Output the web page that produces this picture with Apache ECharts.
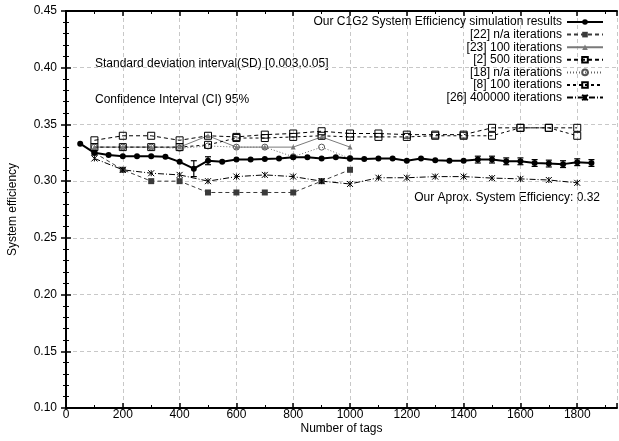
<!DOCTYPE html>
<html>
<head>
<meta charset="utf-8">
<script src="https://cdn.jsdelivr.net/npm/echarts@6/dist/echarts.min.js"></script>
<style>
  html, body { margin: 0; padding: 0; background: #fff; }
  #chart { width: 619px; height: 441px; }
</style>
</head>
<body>
<div id="chart"></div>
<script>
// number of tags (x values)
var ourTags = [50, 100, 150, 200, 250, 300, 350, 400, 450, 500, 550, 600, 650, 700, 750, 800, 850, 900, 950,
  1000, 1050, 1100, 1150, 1200, 1250, 1300, 1350, 1400, 1450, 1500, 1550, 1600, 1650, 1700, 1750, 1800, 1850];
var tags1000 = [100, 200, 300, 400, 500, 600, 700, 800, 900, 1000];
var tags1800 = [100, 200, 300, 400, 500, 600, 700, 800, 900, 1000, 1100, 1200, 1300, 1400, 1500, 1600, 1700, 1800];

// our simulation results + error bar half-heights
var ourEff = [0.333, 0.325, 0.323, 0.322, 0.322, 0.322, 0.3215, 0.317, 0.311, 0.318, 0.317, 0.319, 0.319, 0.3195, 0.320,
  0.321, 0.321, 0.320, 0.321, 0.320, 0.3195, 0.320, 0.320, 0.318, 0.320, 0.3185, 0.318, 0.318, 0.319, 0.319,
  0.3175, 0.3175, 0.316, 0.3155, 0.315, 0.3167, 0.316];
var ourErr = [0, 0, 0, 0, 0, 0, 0, 0, 0.007, 0.0035, 0, 0, 0, 0, 0, 0, 0, 0, 0, 0, 0, 0, 0, 0, 0, 0, 0, 0,
  0.003, 0.003, 0.003, 0.003, 0.003, 0.003, 0.003, 0.003, 0.003];

// literature values
var ref22 = [0.325, 0.310, 0.300, 0.300, 0.290, 0.290, 0.290, 0.290, 0.300, 0.310];
var ref23 = [0.330, 0.330, 0.330, 0.330, 0.340, 0.330, 0.330, 0.330, 0.339, 0.330];
var ref2 = [0.336, 0.340, 0.340, 0.336, 0.340, 0.339, 0.341, 0.342, 0.344, 0.342, 0.342, 0.341, 0.341, 0.341, 0.347, 0.347, 0.347, 0.347];
var ref18 = [0.330, 0.330, 0.330, 0.329, 0.331, 0.330, 0.330, 0.3215, 0.330, 0.320];
var ref8 = [0.330, 0.330, 0.330, 0.330, 0.332, 0.338, 0.338, 0.339, 0.340, 0.339, 0.339, 0.339, 0.340, 0.340, 0.340, 0.347, 0.347, 0.340];
var ref26 = [0.320, 0.310, 0.307, 0.3055, 0.300, 0.304, 0.3055, 0.304, 0.300, 0.2975, 0.303, 0.303, 0.304, 0.304, 0.3027, 0.302, 0.301, 0.2985];

var names = [
  'Our C1G2 System Efficiency simulation results',
  '[22] n/a iterations',
  '[23] 100 iterations',
  '[2] 500 iterations',
  '[18] n/a iterations',
  '[8] 100 iterations',
  '[26] 400000 iterations'
];

function pairs(xs, ys) {
  return xs.map(function (x, i) { return [x, ys[i]]; });
}

var FONT = 'Liberation Sans';
var asterisk = 'path://M0,0L10,10M10,0L0,10M5,0L5,10';
var gridLine = { show: true, lineStyle: { color: '#c8c8c8', type: [4, 3], width: 1 } };

var myChart = echarts.init(document.getElementById('chart'));

var option = {
  animation: false,
  textStyle: { fontFamily: FONT },
  grid: { left: 66, top: 11, right: 2, bottom: 33, containLabel: false, outerBoundsMode: 'none' },
  legend: {
    data: names,
    orient: 'vertical',
    align: 'right',
    right: 10,
    top: 11,
    itemWidth: 36,
    itemHeight: 7,
    itemGap: 0.6,
    textStyle: { fontFamily: FONT, fontSize: 12, color: '#000', lineHeight: 12 }
  },
  xAxis: [
    {
      type: 'value',
      min: 0,
      max: 1940,
      interval: 200,
      name: 'Number of tags',
      nameLocation: 'middle',
      nameGap: 15,
      nameMoveOverlap: false,
      nameTextStyle: { fontSize: 12, color: '#000', fontFamily: FONT },
      axisLine: { lineStyle: { color: '#000', width: 2 } },
      axisTick: { inside: true, length: 5, lineStyle: { color: '#000', width: 1.5 } },
      minorTick: { show: true, splitNumber: 2, length: 3, lineStyle: { color: '#000' } },
      axisLabel: { color: '#000', fontSize: 12, margin: 1, showMaxLabel: false,
        formatter: function (v) { return String(v); } },
      splitLine: gridLine
    },
    {
      type: 'value',
      position: 'top',
      min: 0,
      max: 1940,
      interval: 200,
      axisLine: { lineStyle: { color: '#000', width: 2 } },
      axisTick: { inside: true, length: 5, lineStyle: { color: '#000', width: 1.5 } },
      minorTick: { show: true, splitNumber: 2, length: 3, lineStyle: { color: '#000' } },
      axisLabel: { show: false },
      splitLine: { show: false }
    }
  ],
  yAxis: [
    {
      type: 'value',
      min: 0.10,
      max: 0.45,
      interval: 0.05,
      name: 'System efficiency',
      nameLocation: 'middle',
      nameGap: 47,
      nameMoveOverlap: false,
      nameTextStyle: { fontSize: 12, color: '#000', fontFamily: FONT },
      axisLine: { show: true, lineStyle: { color: '#000', width: 2 } },
      axisTick: { show: true, inside: true, length: 5, lineStyle: { color: '#000', width: 1.5 } },
      minorTick: { show: true, splitNumber: 5, length: 3, lineStyle: { color: '#000' } },
      axisLabel: {
        color: '#000', fontSize: 12, margin: 9,
        formatter: function (v) { return v.toFixed(2); }
      },
      splitLine: gridLine
    },
    {
      type: 'value',
      position: 'right',
      min: 0.10,
      max: 0.45,
      interval: 0.05,
      axisLine: { show: true, lineStyle: { color: '#000', width: 2 } },
      axisTick: { show: true, inside: true, length: 5, lineStyle: { color: '#000', width: 1.5 } },
      minorTick: { show: true, splitNumber: 5, length: 3, lineStyle: { color: '#000' } },
      axisLabel: { show: false },
      splitLine: { show: false }
    }
  ],
  graphic: [
    {
      type: 'text', left: 95, top: 58,
      style: { text: 'Standard deviation interval(SD) [0.003,0.05]', fontFamily: FONT, fontSize: 12, fill: '#000' }
    },
    {
      type: 'text', left: 95, top: 94,
      style: { text: 'Confidence Interval (CI) 95%', fontFamily: FONT, fontSize: 12, fill: '#000' }
    },
    {
      type: 'text', right: 19, top: 192,
      style: { text: 'Our Aprox. System Efficiency: 0.32', fontFamily: FONT, fontSize: 12, fill: '#000' }
    }
  ],
  series: [
    {
      name: names[1], type: 'line', data: pairs(tags1000, ref22), z: 3,
      symbol: 'rect', symbolSize: 6,
      lineStyle: { color: '#3a3a3a', width: 1, type: [4, 3] },
      itemStyle: { color: '#3a3a3a' }
    },
    {
      name: names[2], type: 'line', data: pairs(tags1000, ref23), z: 3,
      symbol: 'triangle', symbolSize: 5,
      lineStyle: { color: '#7a7a7a', width: 1 },
      itemStyle: { color: '#7a7a7a' }
    },
    {
      name: names[3], type: 'line', data: pairs(tags1800, ref2), z: 3,
      symbol: 'rect', symbolSize: 7,
      lineStyle: { color: '#000', width: 1, type: [4, 3] },
      itemStyle: { color: 'rgba(0,0,0,0)', borderColor: '#000', borderWidth: 1 }
    },
    {
      name: names[4], type: 'line', data: pairs(tags1000, ref18), z: 3,
      symbol: 'circle', symbolSize: 6,
      lineStyle: { color: '#666', width: 1, type: [1, 2] },
      itemStyle: { color: 'rgba(0,0,0,0)', borderColor: '#555', borderWidth: 1 }
    },
    {
      name: names[5], type: 'line', data: pairs(tags1800, ref8), z: 3,
      symbol: 'rect', symbolSize: 7,
      lineStyle: { color: '#000', width: 1, type: [3, 3] },
      itemStyle: { color: 'rgba(0,0,0,0)', borderColor: '#000', borderWidth: 1 }
    },
    {
      name: names[6], type: 'line', data: pairs(tags1800, ref26), z: 3,
      symbol: asterisk, symbolSize: 6,
      lineStyle: { color: '#000', width: 1, type: [6, 2, 1, 2] },
      itemStyle: { color: 'none', borderColor: '#000', borderWidth: 1 }
    },
    {
      name: names[0], type: 'line', data: pairs(ourTags, ourEff), z: 5,
      symbol: 'circle', symbolSize: 6,
      lineStyle: { color: '#000', width: 2 },
      itemStyle: { color: '#000' }
    },
    {
      name: 'error', type: 'custom', z: 6,
      data: ourTags.map(function (x, i) { return [x, ourEff[i] - ourErr[i], ourEff[i] + ourErr[i]]; }),
      renderItem: function (params, api) {
        var lo = api.coord([api.value(0), api.value(1)]);
        var hi = api.coord([api.value(0), api.value(2)]);
        if (Math.abs(hi[1] - lo[1]) < 1) return null;
        var w = 3;
        var st = { stroke: '#000', lineWidth: 1.2 };
        return {
          type: 'group',
          children: [
            { type: 'line', shape: { x1: lo[0], y1: lo[1], x2: hi[0], y2: hi[1] }, style: st },
            { type: 'line', shape: { x1: lo[0] - w, y1: lo[1], x2: lo[0] + w, y2: lo[1] }, style: st },
            { type: 'line', shape: { x1: hi[0] - w, y1: hi[1], x2: hi[0] + w, y2: hi[1] }, style: st }
          ]
        };
      }
    }
  ]
};

myChart.setOption(option);
</script>
</body>
</html>
